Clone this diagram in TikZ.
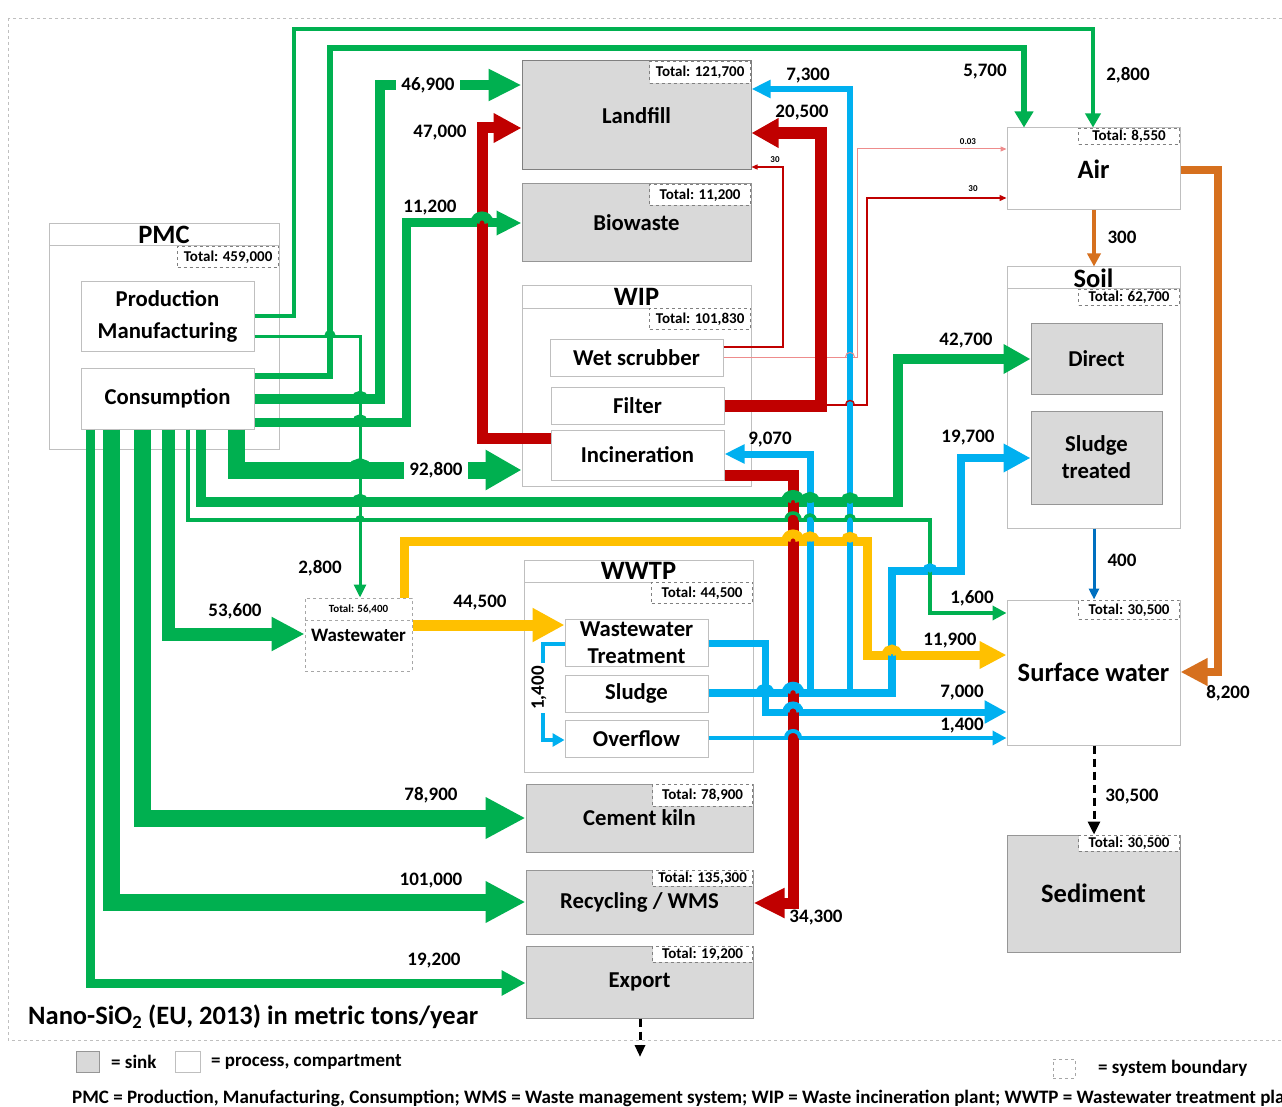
\documentclass[tikz,border=0pt]{standalone}
\usepackage{fontspec}
\setmainfont{Carlito}
\usetikzlibrary{arrows.meta}
\definecolor{cg}{RGB}{0,176,80}
\definecolor{cr}{RGB}{192,0,0}
\definecolor{cb}{RGB}{0,176,240}
\definecolor{cy}{RGB}{255,192,0}
\definecolor{co}{RGB}{214,112,30}
\definecolor{cdb}{RGB}{0,112,192}
\definecolor{cpk}{RGB}{238,140,140}
\definecolor{sinkfill}{RGB}{217,217,217}
\definecolor{sinkdraw}{RGB}{150,150,150}
\definecolor{procdraw}{RGB}{191,191,191}
\newcommand\fs[2]{\fontsize{#1}{#2}\selectfont}
\newcommand\hop[6]{%
  \pgfmathsetmacro\hr{#5/2+1.5}%
  \draw[#6, line width=#5pt] (#1,{#2-#3/2-0.6}) -- (#1,{#2+#3/2+0.6});
  \draw[#4, line width=#3pt] ({#1-\hr},#2) .. controls ({#1-\hr},{#2-1.333*\hr}) and ({#1+\hr},{#2-1.333*\hr}) .. ({#1+\hr},#2);
}
\tikzset{
  sink/.style={draw=sinkdraw, fill=sinkfill, line width=1pt, inner sep=0pt, font=\bfseries\fs{22.7}{27}, align=center},
  proc/.style={draw=procdraw, fill=white, line width=1pt, inner sep=0pt, font=\bfseries\fs{22.7}{27}, align=center},
  tot/.style={draw=gray, dashed, fill=white, line width=0.8pt, inner sep=0pt, font=\bfseries\fs{15}{15}, anchor=north east},
  ttl/.style={font=\bfseries\fs{26.5}{26.5}, inner sep=0pt},
  num/.style={font=\bfseries\fs{19}{19}, inner sep=1pt},
  sml/.style={font=\bfseries\fs{9}{9}, inner sep=0pt},
  leg/.style={font=\bfseries\fs{19}{19}, anchor=west, inner sep=0pt},
  fl/.style={line join=miter},
}
\begin{document}
\begin{tikzpicture}[x=1pt,y=-1pt]
\useasboundingbox (0,0) rectangle (1282,1107);
\fill[white] (0,0) rectangle (1282,1107);
% system boundary
\draw[procdraw, dashed, line width=0.8pt] (8,18) rectangle (1300,1040);

% ---------- boxes ----------
\node[proc, minimum width=230pt, minimum height=225pt] (pmc) at (164,336.5) {};
\draw[procdraw, line width=1pt] (49,246) -- (279,246);
\node[ttl] (pmct) at (164,235) {PMC};
\node[tot, minimum width=101pt, minimum height=21pt] (pmctot) at (279,246) {Total: 459,000};
\node[proc, minimum width=173pt, minimum height=69pt, font=\bfseries\fs{22.7}{32}] (prod) at (167.5,316.5) {Production\\Manufacturing};
\node[proc, minimum width=173pt, minimum height=61pt] (cons) at (167.5,398.5) {Consumption};

\node[sink, draw=gray, minimum width=229pt, minimum height=109pt] (landfill) at (636.5,115.5) {Landfill};
\node[tot, minimum width=101pt, minimum height=22pt] (lftot) at (751,61) {Total: 121,700};
\node[sink, minimum width=229pt, minimum height=78pt] (bio) at (636.5,223) {Biowaste};
\node[tot, minimum width=101pt, minimum height=21pt] (biotot) at (751,184) {Total: 11,200};

\node[proc, minimum width=229pt, minimum height=200pt] (wip) at (636.5,386) {};
\draw[procdraw, line width=1pt] (522,308) -- (751,308);
\node[ttl] (wipt) at (636.5,297) {WIP};
\node[tot, minimum width=101pt, minimum height=21pt] (wiptot) at (751,308) {Total: 101,830};
\node[proc, minimum width=173pt, minimum height=37pt] (wet) at (636.5,357.5) {Wet scrubber};
\node[proc, minimum width=173pt, minimum height=37pt] (filter) at (637.5,405.5) {Filter};
\node[proc, minimum width=173pt, minimum height=50pt] (incin) at (637.5,455) {Incineration};

\node[proc, minimum width=173pt, minimum height=82pt, font=\bfseries\fs{26.5}{26.5}] (air) at (1093.5,169) {Air};
\node[tot, minimum width=101pt, minimum height=16pt] (airtot) at (1180,128) {Total: 8,550};

\node[proc, minimum width=173pt, minimum height=261pt] (soil) at (1093.5,397.5) {};
\draw[procdraw, line width=1pt] (1007,289) -- (1180,289);
\node[ttl] (soilt) at (1093.5,278) {Soil};
\node[tot, minimum width=101pt, minimum height=16pt] (soiltot) at (1180,289) {Total: 62,700};
\node[sink, minimum width=131pt, minimum height=71pt] (direct) at (1096.5,358.5) {Direct};
\node[sink, minimum width=131pt, minimum height=93pt] (sludgetr) at (1096.5,457.5) {Sludge\\treated};

\node[proc, minimum width=229pt, minimum height=212pt] (wwtp) at (638.5,666) {};
\draw[procdraw, line width=1pt] (524,582) -- (753,582);
\node[ttl] (wwtpt) at (638.5,571) {WWTP};
\node[tot, minimum width=101pt, minimum height=21pt] (wwtptot) at (753,582) {Total: 44,500};
\node[proc, minimum width=143pt, minimum height=47pt] (wwt) at (636.5,642.5) {Wastewater\\Treatment};
\node[proc, minimum width=143pt, minimum height=37pt] (sludge) at (636.5,693.5) {Sludge};
\node[proc, minimum width=143pt, minimum height=37pt] (overflow) at (636.5,738.5) {Overflow};

\node[proc, dashed, draw=gray!70, minimum width=107pt, minimum height=73pt] (ww) at (358.5,634.5) {};
\draw[gray!70, dashed, line width=1pt] (305,620) -- (412,620);
\node[font=\bfseries\fs{11}{11}, inner sep=0pt] (wwtot) at (358.5,609.5) {Total: 56,400};
\node[font=\bfseries\fs{19}{19}, inner sep=0pt] (wwl) at (358.5,635) {Wastewater};

\node[proc, minimum width=173pt, minimum height=145pt, font=\bfseries\fs{26.5}{26.5}] (sw) at (1093.5,672.5) {Surface water};
\node[tot, minimum width=101pt, minimum height=19pt] (swtot) at (1180,600) {Total: 30,500};
\node[sink, minimum width=173pt, minimum height=117pt, font=\bfseries\fs{26.5}{26.5}] (sed) at (1093.5,893.5) {Sediment};
\node[tot, minimum width=101pt, minimum height=16pt] (sedtot) at (1180,835) {Total: 30,500};

\node[sink, minimum width=227pt, minimum height=68pt] (cement) at (639.5,818) {Cement kiln};
\node[tot, minimum width=100pt, minimum height=22pt] (cemtot) at (753,784) {Total: 78,900};
\node[sink, minimum width=227pt, minimum height=64pt] (recyc) at (639.5,902) {Recycling / WMS};
\node[tot, minimum width=100pt, minimum height=16pt] (rectot) at (753,870) {Total: 135,300};
\node[sink, minimum width=227pt, minimum height=72pt] (export) at (639.5,982) {Export};
\node[tot, minimum width=100pt, minimum height=16pt] (exptot) at (753,946) {Total: 19,200};

\coordinate (fbranch) at (827,405);
\coordinate (b850) at (850,693);
\coordinate (b810) at (810,693);
\coordinate (expout) at (640,1057);

% ---------- flows ----------
\draw[fl, cpk, line width=1pt, -{Triangle[length=6pt,width=5pt]}] (wet.east |- 0,357) -- (857,357) -- (857,149) -- (air.west |- 0,149);
\draw[fl, cr, line width=1.3pt, -{Triangle[length=6pt,width=5pt]}] (wet.east |- 0,347) -- (783,347) -- (783,167) -- (landfill.east |- 0,167);
\draw[fl, cr, line width=1.3pt, -{Triangle[length=7pt,width=6pt]}] (fbranch) -- (867,405) -- (867,198) -- (air.west |- 0,198);

% red
\draw[fl, cr, line width=11pt, -{Triangle[length=28pt,width=28pt]}] (incin.west |- 0,438) -- (482,438) -- (482,128) -- (landfill.west |- 0,128);
\draw[fl, cr, line width=12pt, -{Triangle[length=27pt,width=28pt]}] (filter.east |- 0,406) -- (821,406) -- (821,133) -- (landfill.east |- 0,133);
\draw[fl, cr, line width=11pt, -{Triangle[length=31pt,width=28pt]}] (incin.east |- 0,475) -- (793,475) -- (793,903) -- (recyc.east |- 0,903);

% blue
\draw[fl, cb, line width=6pt, -{Triangle[length=19pt,width=17pt]}] (b850) -- (850,89) -- (landfill.east |- 0,89);
\draw[fl, cb, line width=7pt, -{Triangle[length=20pt,width=18pt]}] (b810) -- (810,454) -- (incin.east |- 0,454);
\draw[fl, cb, line width=8.5pt, -{Triangle[length=27pt,width=27pt]}] (sludge.east |- 0,693) -- (892,693) -- (892,571) -- (961,571) -- (961,458) -- (sludgetr.west |- 0,458);
\draw[fl, cb, line width=7pt, -{Triangle[length=22pt,width=22pt]}] (wwt.east |- 0,643) -- (765,643) -- (765,712) -- (sw.west |- 0,712);
\draw[fl, cb, line width=4pt, -{Triangle[length=14pt,width=14pt]}] (overflow.east |- 0,738) -- (sw.west |- 0,738);
\draw[fl, cb, line width=4pt, -{Triangle[length=12pt,width=13pt]}] (wwt.west |- 0,644) -- (543,644) -- (543,740) -- (overflow.west |- 0,740);

% yellow
\draw[fl, cy, line width=11pt, -{Triangle[length=32pt,width=32pt]}] (ww.east |- 0,625) -- (wwt.west |- 0,625);
\draw[fl, cy, line width=9pt, -{Triangle[length=27pt,width=26pt]}] (ww.north -| 404,0) -- (404,541) -- (867,541) -- (867,655) -- (sw.west |- 0,655);

% green
\draw[fl, cg, line width=4.5pt, -{Triangle[length=14pt,width=15pt]}] (prod.east |- 0,316) -- (294,316) -- (294,29) -- (1093,29) -- (air.north -| 1093,0);
\draw[fl, cg, line width=5.5pt, -{Triangle[length=16pt,width=18pt]}] (cons.east |- 0,376) -- (330,376) -- (330,48) -- (1024,48) -- (air.north -| 1024,0);
\draw[fl, cg, line width=3pt, -{Triangle[length=13pt,width=12pt]}] (prod.east |- 0,336) -- (360,336) -- (ww.north -| 360,0);
\draw[fl, cg, line width=10pt, -{Triangle[length=33pt,width=30pt]}] (cons.east |- 0,399) -- (380,399) -- (380,85) -- (landfill.west |- 0,85);
\draw[fl, cg, line width=9pt, -{Triangle[length=25pt,width=23pt]}] (cons.east |- 0,422) -- (406,422) -- (406,223) -- (bio.west |- 0,223);
\draw[fl, cg, line width=17pt, -{Triangle[length=36pt,width=38pt]}] (cons.south -| 236,0) -- (236,470) -- (wip.west |- 0,470);
\draw[fl, cg, line width=10pt, -{Triangle[length=27pt,width=28pt]}] (cons.south -| 201,0) -- (201,502) -- (898,502) -- (898,359) -- (direct.west |- 0,359);
\draw[fl, cg, line width=3.5pt, -{Triangle[length=14pt,width=14pt]}] (cons.south -| 188,0) -- (188,520) -- (930,520) -- (930,613) -- (sw.west |- 0,613);
\draw[fl, cg, line width=13pt, -{Triangle[length=33pt,width=32pt]}] (cons.south -| 168,0) -- (168,634) -- (ww.west |- 0,634);
\draw[fl, cg, line width=17pt, -{Triangle[length=40pt,width=39pt]}] (cons.south -| 142,0) -- (142,818) -- (cement.west |- 0,818);
\draw[fl, cg, line width=17pt, -{Triangle[length=40pt,width=39pt]}] (cons.south -| 111,0) -- (111,902) -- (recyc.west |- 0,902);
\draw[fl, cg, line width=9pt, -{Triangle[length=24pt,width=24pt]}] (cons.south -| 90,0) -- (90,983) -- (export.west |- 0,983);

% orange, dark blue, black
\draw[fl, co, line width=8pt, -{Triangle[length=27pt,width=26pt]}] (air.east |- 0,170) -- (1218,170) -- (1218,672) -- (sw.east |- 0,672);
\draw[fl, co, line width=4pt, -{Triangle[length=13pt,width=13pt]}] (air.south -| 1094,0) -- (soil.north -| 1094,0);
\draw[fl, cdb, line width=3pt, -{Triangle[length=11pt,width=10pt]}] (soil.south -| 1094,0) -- (sw.north -| 1094,0);
\draw[fl, black, line width=3pt, dash pattern=on 8pt off 5pt, -{Triangle[length=13pt,width=12pt]}] (sw.south -| 1094,0) -- (sed.north -| 1094,0);
\draw[fl, black, line width=3pt, dash pattern=on 8pt off 5pt, -{Triangle[length=12pt,width=10pt]}] (export.south -| 640,0) -- (expout);

% ---------- hops ----------
\hop{360}{399}{10}{cg}{3}{cg}
\hop{360}{422}{9}{cg}{3}{cg}
\hop{360}{470}{17}{cg}{3}{cg}
\hop{360}{502}{10}{cg}{3}{cg}
\hop{360}{520}{3.5}{cg}{3}{cg}
\hop{330}{336}{3}{cg}{5.5}{cg}
\hop{482}{223}{9}{cg}{11}{cr}
\hop{793}{502}{10}{cg}{11}{cr}
\hop{793}{520}{3.5}{cg}{11}{cr}
\hop{793}{541}{9}{cy}{11}{cr}
\hop{793}{693}{8.5}{cb}{11}{cr}
\hop{793}{712}{7}{cb}{11}{cr}
\hop{793}{738}{4}{cb}{11}{cr}
\hop{810}{502}{10}{cg}{7}{cb}
\hop{810}{520}{3.5}{cg}{7}{cb}
\hop{810}{541}{9}{cy}{7}{cb}
\hop{850}{357}{1}{cpk}{6}{cb}
\hop{850}{405}{1.3}{cr}{6}{cb}
\hop{850}{502}{10}{cg}{6}{cb}
\hop{850}{520}{3.5}{cg}{6}{cb}
\hop{850}{541}{9}{cy}{6}{cb}
\hop{765}{693}{8.5}{cb}{7}{cb}
\hop{892}{655}{9}{cy}{8.5}{cb}
\hop{930}{571}{8.5}{cb}{3.5}{cg}

% ---------- labels ----------
\node[num] (l1) at (1128,75) {2,800};
\node[num] (l2) at (985,72) {5,700};
\node[num, fill=white, inner xsep=5pt] (l3) at (428,85) {46,900};
\node[num] (l4) at (440,133) {47,000};
\node[num] (l5) at (430,208) {11,200};
\node[num] (l6) at (808,76) {7,300};
\node[num] (l7) at (802,113) {20,500};
\node[sml] (l8) at (775,160) {30};
\node[sml] (l9) at (968,142) {0.03};
\node[sml] (l10) at (973,189) {30};
\node[num] (l11) at (1122,237) {300};
\node[num] (l12) at (966,341) {42,700};
\node[num] (l13) at (968,438) {19,700};
\node[num] (l14) at (770,440) {9,070};
\node[num, fill=white, inner xsep=5pt] (l15) at (436,470) {92,800};
\node[num] (l16) at (320,568) {2,800};
\node[num] (l17) at (235,611) {53,600};
\node[num] (l18) at (480,603) {44,500};
\node[num] (l19) at (1122,560) {400};
\node[num] (l20) at (972,598) {1,600};
\node[num] (l21) at (950,641) {11,900};
\node[num] (l22) at (962,693) {7,000};
\node[num] (l23) at (962,726) {1,400};
\node[num] (l24) at (1228,693) {8,200};
\node[num, rotate=90, fill=white, inner xsep=3pt, inner ysep=0pt] (l25) at (539,688) {1,400};
\node[num] (l26) at (1132,797) {30,500};
\node[num] (l27) at (431,795) {78,900};
\node[num] (l28) at (431,881) {101,000};
\node[num] (l29) at (434,961) {19,200};
\node[num] (l30) at (816,918) {34,300};

% ---------- title & legend ----------
\node[font=\bfseries\fs{26.5}{26.5}, anchor=west, inner sep=0pt] (title) at (28,1017) {Nano-SiO\textsubscript{2} (EU, 2013) in metric tons/year};
\node[draw=sinkdraw, fill=sinkfill, line width=1pt, minimum width=23pt, minimum height=21pt, inner sep=0pt] (lgs) at (87.5,1061.5) {};
\node[leg] (lgst) at (111,1062) {= sink};
\node[draw=procdraw, fill=white, line width=1pt, minimum width=25pt, minimum height=21pt, inner sep=0pt] (lgp) at (187.5,1061.5) {};
\node[leg] (lgpt) at (211,1062) {= process, compartment};
\node[draw=gray!70, dashed, line width=0.8pt, minimum width=22pt, minimum height=19pt, inner sep=0pt] (lgb) at (1064,1068.5) {};
\node[leg] (lgbt) at (1098,1068) {= system boundary};
\node[leg] (abbr) at (72,1098) {PMC = Production, Manufacturing, Consumption; WMS = Waste management system; WIP = Waste incineration plant; WWTP = Wastewater treatment plant};
\end{tikzpicture}
\end{document}
